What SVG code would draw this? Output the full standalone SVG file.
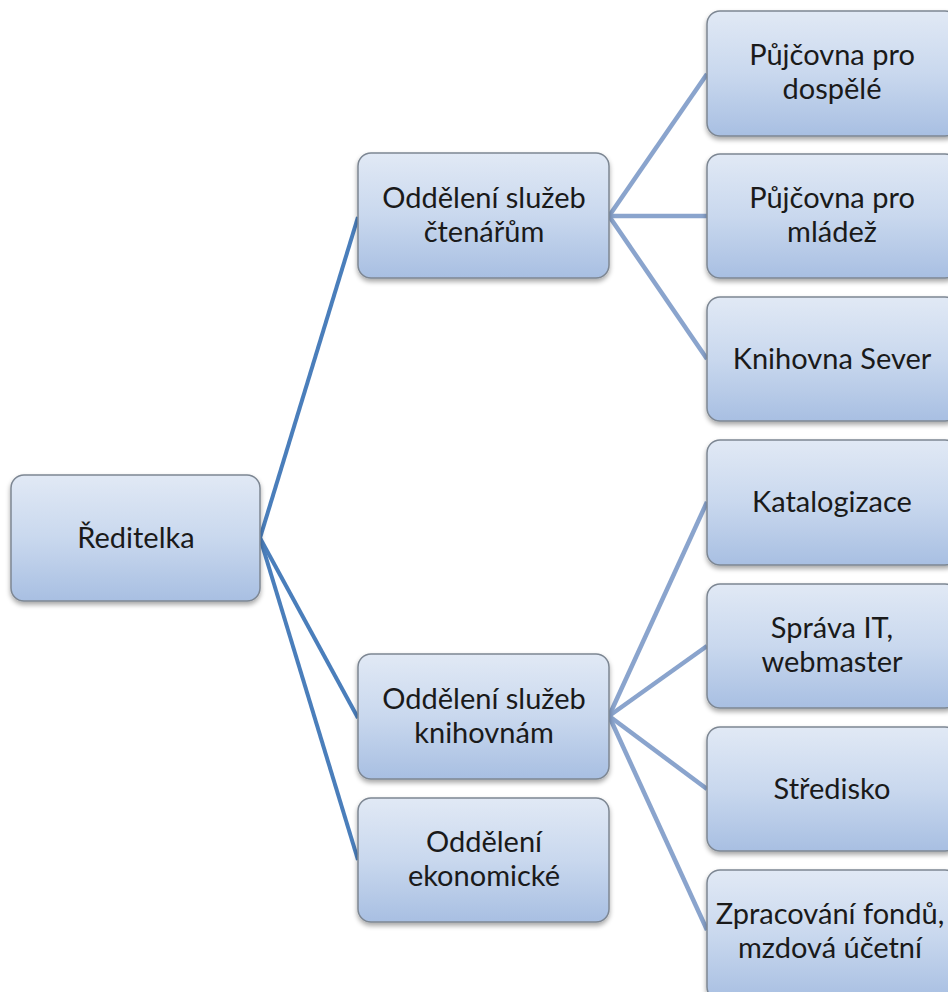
<svg xmlns="http://www.w3.org/2000/svg" width="948" height="992" viewBox="0 0 948 992">
<defs>
<linearGradient id="g" x1="0" y1="0" x2="0" y2="1">
<stop offset="0" stop-color="#e1e9f5"/>
<stop offset="0.5" stop-color="#c9d8ee"/>
<stop offset="1" stop-color="#a8bfe2"/>
</linearGradient>
<filter id="sh" x="-10%" y="-10%" width="120%" height="130%">
<feGaussianBlur in="SourceAlpha" stdDeviation="2.5"/>
<feOffset dx="0" dy="3" result="b"/>
<feComponentTransfer><feFuncA type="linear" slope="0.35"/></feComponentTransfer>
<feMerge><feMergeNode/><feMergeNode in="SourceGraphic"/></feMerge>
</filter>
</defs>
<style>
.box{fill:url(#g);stroke:#7d8793;stroke-width:1.5;filter:url(#sh)}
.t{font-family:Lato,"Open Sans",sans-serif;font-size:29px;fill:#1a1a1a;text-anchor:middle}
.c1{stroke:#4a7ebb;stroke-width:4;fill:none}
.c2{stroke:#8aa4cd;stroke-width:4.5;fill:none}
</style>
<rect width="948" height="992" fill="#fff"/>
<g id="connectors">
<line class="c1" x1="260" y1="538" x2="358" y2="217"/>
<line class="c1" x1="260" y1="538" x2="358" y2="718"/>
<line class="c1" x1="260" y1="538" x2="358" y2="860"/>
<line class="c2" x1="609" y1="216" x2="707" y2="74"/>
<line class="c2" x1="609" y1="216" x2="707" y2="216"/>
<line class="c2" x1="609" y1="216" x2="707" y2="359"/>
<line class="c2" x1="609" y1="716" x2="707" y2="502"/>
<line class="c2" x1="609" y1="716" x2="707" y2="646"/>
<line class="c2" x1="609" y1="716" x2="707" y2="789"/>
<line class="c2" x1="609" y1="716" x2="707" y2="930"/>
</g>
<g id="reditelka"><rect class="box" x="11" y="475" width="249" height="126" rx="13"/><text class="t" x="136" y="548">Ředitelka</text></g>
<g id="ctenarum"><rect class="box" x="358" y="153" width="251" height="125" rx="13"/><text class="t" x="484" y="208">Oddělení služeb</text><text class="t" x="484" y="242">čtenářům</text></g>
<g id="knihovnam"><rect class="box" x="358" y="654" width="251" height="125" rx="13"/><text class="t" x="484" y="709">Oddělení služeb</text><text class="t" x="484" y="743">knihovnám</text></g>
<g id="ekonomicke"><rect class="box" x="358" y="798" width="251" height="124" rx="13"/><text class="t" x="484" y="852">Oddělení</text><text class="t" x="484" y="886">ekonomické</text></g>
<g id="dospele"><rect class="box" x="707" y="11" width="251" height="125" rx="13"/><text class="t" x="832" y="65">Půjčovna pro</text><text class="t" x="832" y="99">dospělé</text></g>
<g id="mladez"><rect class="box" x="707" y="154" width="251" height="124" rx="13"/><text class="t" x="832" y="208">Půjčovna pro</text><text class="t" x="832" y="242">mládež</text></g>
<g id="sever"><rect class="box" x="707" y="297" width="251" height="124" rx="13"/><text class="t" x="832" y="369">Knihovna Sever</text></g>
<g id="katalogizace"><rect class="box" x="707" y="440" width="251" height="125" rx="13"/><text class="t" x="832" y="512">Katalogizace</text></g>
<g id="it"><rect class="box" x="707" y="584" width="251" height="124" rx="13"/><text class="t" x="832" y="638">Správa IT,</text><text class="t" x="832" y="672">webmaster</text></g>
<g id="stredisko"><rect class="box" x="707" y="727" width="251" height="124" rx="13"/><text class="t" x="832" y="799">Středisko</text></g>
<g id="zpracovani"><rect class="box" x="707" y="870" width="251" height="130" rx="13"/><text class="t" x="830" y="924">Zpracování fondů,</text><text class="t" x="830" y="958">mzdová účetní</text></g>
</svg>
